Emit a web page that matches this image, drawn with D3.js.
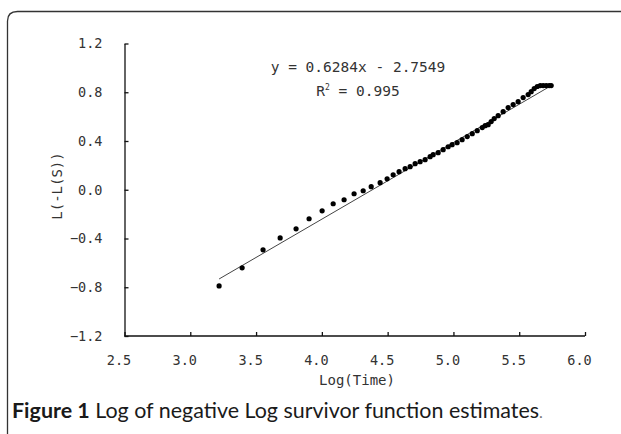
<!DOCTYPE html>
<html><head><meta charset="utf-8">
<script src="https://cdn.jsdelivr.net/npm/d3@7"></script>
<style>
html,body{margin:0;padding:0;background:#fff;}
svg{display:block;}
</style></head>
<body>
<svg id="chart" width="621" height="434"></svg>
<script>
// ---- data ----
const logTime = [3.219,3.394,3.553,3.683,3.804,3.903,4.002,4.086,4.169,4.245,4.314,4.375,4.443,4.496,
  4.542,4.587,4.633,4.671,4.709,4.747,4.785,4.823,4.846,4.884,4.922,4.960,4.990,5.028,5.066,5.105,
  5.143,5.181,5.219,5.241,5.264,5.287,5.310,5.340,5.378,5.416,5.454,5.492,5.530,5.568,5.591,5.614,
  5.637,5.660,5.682,5.705,5.728,5.743];
const logNegLogS = [-0.789,-0.641,-0.493,-0.395,-0.321,-0.238,-0.173,-0.115,-0.082,-0.033,-0.008,0.025,0.058,0.090,
  0.123,0.148,0.173,0.189,0.214,0.230,0.247,0.271,0.288,0.304,0.329,0.353,0.370,0.386,0.411,0.436,
  0.460,0.485,0.510,0.526,0.534,0.559,0.584,0.608,0.641,0.674,0.699,0.723,0.756,0.781,0.805,0.830,
  0.847,0.855,0.855,0.855,0.855,0.855];
const xTicks = [2.5,3.0,3.5,4.0,4.5,5.0,5.5,6.0];
const yTicks = [-1.2,-0.8,-0.4,0.0,0.4,0.8,1.2];
const trendSlope = 0.6284;
const trendIntercept = -2.7549;
const equationText = "y = 0.6284x - 2.7549";
const r2Value = "0.995";
const xTitle = "Log(Time)";
const yTitle = "L(-L(S))";
const captionBold = "Figure 1";
const captionRest = " Log of negative Log survivor function estimates";

// ---- drawing ----
const svg = d3.select("#chart");
const mono = "'DejaVu Sans Mono','Liberation Mono',monospace";

// frame
svg.append("path")
  .attr("d","M7.5,434 V21 Q7.5,11.5 17.5,11.5 H621")
  .attr("fill","none").attr("stroke","#333").attr("stroke-width",1.3);

const x = d3.scaleLinear().domain([2.5,6.0]).range([124.5,585]);
const y = d3.scaleLinear().domain([-1.2,1.2]).range([336,43.5]);

const gx = svg.append("g").attr("transform","translate(0,336)")
  .call(d3.axisBottom(x).tickValues(xTicks).tickFormat(d3.format(".1f"))
    .tickSizeInner(-4).tickSizeOuter(0).tickPadding(19));
const gy = svg.append("g").attr("transform","translate(124.5,0)")
  .call(d3.axisLeft(y).tickValues(yTicks).tickFormat(d3.format(".1f"))
    .tickSizeInner(-4).tickSizeOuter(0).tickPadding(22));
[gx,gy].forEach(g=>{
  g.select(".domain").attr("stroke","#111").attr("stroke-width",1.3);
  g.selectAll(".tick line").attr("stroke","#111").attr("stroke-width",1.3);
  g.selectAll(".tick text").attr("font-family",mono).attr("font-size",13.5).attr("fill","#333");
});
gx.selectAll(".tick text").attr("dx",-6);
gx.select(".domain").attr("d",`M${x(2.5)},0H${x(6.0)}`);

// regression line
const xr = d3.extent(logTime);
svg.append("line")
  .attr("x1",x(xr[0])).attr("y1",y(trendSlope*xr[0]+trendIntercept))
  .attr("x2",x(xr[1])).attr("y2",y(trendSlope*xr[1]+trendIntercept))
  .attr("stroke","#444").attr("stroke-width",1);

// points
svg.append("g").selectAll("circle").data(logTime.map((t,i)=>[t,logNegLogS[i]]))
  .join("circle")
  .attr("cx",d=>x(d[0])).attr("cy",d=>y(d[1])).attr("r",2.6)
  .attr("fill","#000");

// equation
svg.append("text").attr("x",358).attr("y",72).attr("text-anchor","middle")
  .attr("font-family",mono).attr("font-size",14.5).attr("fill","#333")
  .text(equationText);
const r2 = svg.append("text").attr("x",358).attr("y",96).attr("text-anchor","middle")
  .attr("font-family",mono).attr("font-size",14.5).attr("fill","#333");
r2.append("tspan").text("R");
r2.append("tspan").attr("font-size",8).attr("dy",-6).text("2");
r2.append("tspan").attr("dy",6).text(" = " + r2Value);

// axis titles
svg.append("text").attr("x",357).attr("y",385).attr("text-anchor","middle")
  .attr("font-family",mono).attr("font-size",14).attr("fill","#333").text(xTitle);
svg.append("text").attr("transform","translate(62,186) rotate(-90)").attr("text-anchor","middle")
  .attr("font-family",mono).attr("font-size",14).attr("fill","#333").text(yTitle);

// caption
const cap = svg.append("text").attr("x",12).attr("y",418)
  .attr("font-family","Lato,'Noto Sans',sans-serif").attr("font-size",16).attr("fill","#1a1a1a");
cap.append("tspan").attr("font-weight","bold").text(captionBold);
cap.append("tspan").text(captionRest);
cap.append("tspan").attr("font-size",12).attr("fill","#777").text(".");
// fit caption width to reference (~12..543)
const w = cap.node().getComputedTextLength();
const fs = 16 * 531 / w;
cap.attr("font-size",fs);
cap.select("tspan:last-child").attr("font-size",fs*0.75);
</script>
</body></html>
